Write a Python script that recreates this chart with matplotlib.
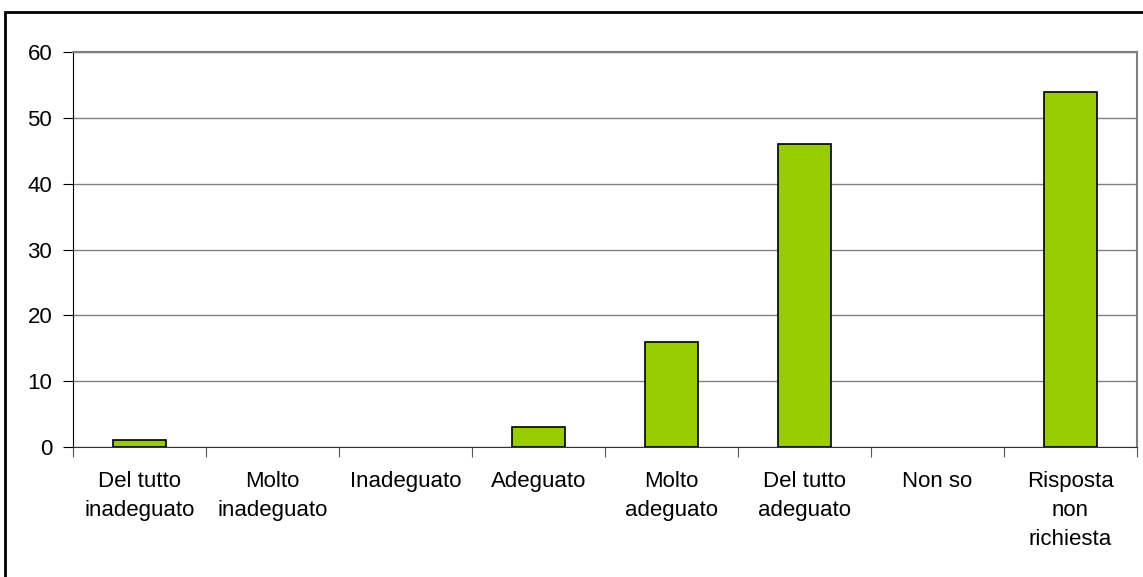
import matplotlib
matplotlib.use("Agg")
import matplotlib.pyplot as plt
from matplotlib.patches import Rectangle

categories = ["Del tutto\ninadeguato", "Molto\ninadeguato", "Inadeguato", "Adeguato",
              "Molto\nadeguato", "Del tutto\nadeguato", "Non so", "Risposta\nnon\nrichiesta"]
values = [1, 0, 0, 3, 16, 46, 0, 54]
yticks = [0, 10, 20, 30, 40, 50, 60]

plt.rcParams['font.family'] = ['Liberation Sans', 'DejaVu Sans']

fig = plt.figure(figsize=(11.43, 5.77), dpi=100)
ax = fig.add_axes([73 / 1143, 1 - 447 / 577, (1137 - 73) / 1143, (447 - 52) / 577])

# outer chart border (only left and top visible in the reference)
fig.patches.append(Rectangle((5 / 1143, -0.1), 1.2, 1.1 - 12 / 577,
                             transform=fig.transFigure, fill=False,
                             edgecolor="black", linewidth=2, zorder=0))

x = list(range(len(categories)))
# zero bars have no visible outline in the reference
edge_w = [1.2 if v else 0 for v in values]
ax.bar(x, values, width=0.4, color="#99CC00", edgecolor="black", linewidth=edge_w, zorder=3)

ax.set_xlim(-0.5, len(categories) - 0.5)
ax.set_ylim(0, 60)
ax.set_yticks(yticks)
ax.yaxis.grid(True, color="#808080", linewidth=1, zorder=0)
ax.set_axisbelow(True)

# ticks between categories, labels centred
ax.set_xticks([i - 0.5 for i in range(len(categories) + 1)])
ax.set_xticklabels([])
ax.set_xticks(x, minor=True)
ax.set_xticklabels(categories, minor=True, fontsize=16, linespacing=1.5, va="top")
ax.tick_params(axis="x", which="minor", length=0, pad=17)
ax.tick_params(axis="x", which="major", length=7, direction="out", color="#555555")
ax.tick_params(axis="y", length=7, labelsize=16, pad=8)

for side in ["top", "right"]:
    ax.spines[side].set_color("#808080")
    ax.spines[side].set_linewidth(1.5)
ax.spines["left"].set_color("black")
ax.spines["bottom"].set_color("#333333")

fig.savefig("out.png", dpi=100)
